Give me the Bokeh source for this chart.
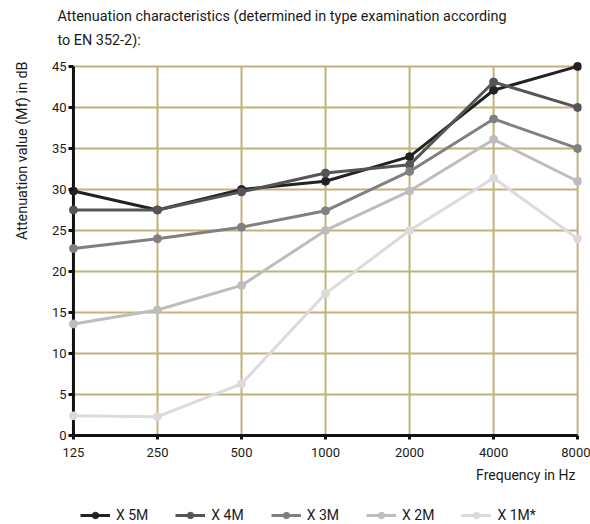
from bokeh.plotting import figure
from bokeh.layouts import column
from bokeh.models import Range1d, FixedTicker, Title, Legend, LegendItem
from bokeh.embed import file_html
from bokeh.resources import INLINE

# ---- data ----
freqs = [125, 250, 500, 1000, 2000, 4000, 8000]
freq_labels = ["125", "250", "500", "1000", "2000", "4000", "8000"]
y_ticks = [0, 5, 10, 15, 20, 25, 30, 35, 40, 45]

series_names = ["X 5M", "X 4M", "X 3M", "X 2M", "X 1M*"]
x5m = [29.8, 27.5, 30.0, 31.0, 34.0, 42.1, 45.0]
x4m = [27.5, 27.5, 29.7, 32.0, 33.0, 43.1, 40.0]
x3m = [22.8, 24.0, 25.4, 27.4, 32.2, 38.6, 35.0]
x2m = [13.6, 15.3, 18.3, 25.0, 29.8, 36.1, 31.0]
x1m = [2.4, 2.3, 6.3, 17.3, 25.0, 31.4, 24.0]
series_values = [x5m, x4m, x3m, x2m, x1m]

title_line1 = "Attenuation characteristics (determined in type examination according"
title_line2 = "to EN 352-2):"
y_title = "Attenuation value (Mf) in dB"
x_title = "Frequency in Hz"

# ---- style ----
colors = ["#222222", "#555555", "#808080", "#bdbdbd", "#dbdbdb"]
grid_color = "#c2b27c"
axis_color = "#111111"
FONT = "Roboto"
TXT = "#1a1a1a"

p = figure(width=590, height=506, x_axis_type="log",
           x_range=Range1d(120, 8260), y_range=Range1d(0, 45.6),
           output_backend="svg", toolbar_location=None,
           min_border_left=61, min_border_right=9,
           min_border_top=61, min_border_bottom=71)
p.outline_line_color = None
p.xgrid.visible = False
p.ygrid.visible = False

x_lo, x_hi = freqs[0], freqs[-1]
y_lo, y_hi = y_ticks[0], y_ticks[-1]

# grid lines drawn through the data scales
p.segment(x0=freqs[1:], y0=[y_lo] * (len(freqs) - 1), x1=freqs[1:], y1=[y_hi] * (len(freqs) - 1),
          line_color=grid_color, line_width=2)
p.segment(x0=[x_lo] * (len(y_ticks) - 1), y0=y_ticks[1:], x1=[x_hi] * (len(y_ticks) - 1), y1=y_ticks[1:],
          line_color=grid_color, line_width=2)
# vertical axis line at the first frequency
p.segment(x0=[x_lo], y0=[y_lo], x1=[x_lo], y1=[y_hi], line_color=axis_color, line_width=3)

for vals, c in zip(series_values, colors):
    p.line(freqs, vals, line_color=c, line_width=3)
    p.scatter(freqs, vals, size=8, fill_color=c, line_color=c)

# axes
p.yaxis.ticker = FixedTicker(ticks=y_ticks)
p.yaxis.bounds = (y_lo, y_hi)
p.yaxis.axis_line_color = None
p.yaxis.major_tick_out = 0
p.yaxis.major_tick_in = 5
p.yaxis.major_label_standoff = 2

p.xaxis.ticker = FixedTicker(ticks=freqs)
p.xaxis.bounds = (x_lo, x_hi)
p.xaxis.major_label_overrides = dict(zip(freqs, freq_labels))
p.xaxis.axis_line_color = axis_color
p.xaxis.axis_line_width = 3
p.xaxis.major_tick_out = 4
p.xaxis.major_tick_in = 0
p.xaxis.major_label_standoff = 8
for ax in (p.xaxis, p.yaxis):
    ax.major_tick_line_color = axis_color
    ax.major_tick_line_width = 3
    ax.minor_tick_line_color = None
    ax.major_label_text_font = FONT
    ax.major_label_text_font_size = "13px"
    ax.major_label_text_color = TXT

# titles (a thin blank spacer sits next to the frame)
p.add_layout(Title(text=" ", standoff=0, text_font_size="6px"), "above")
p.add_layout(Title(text=title_line2, align="left", offset=-11, standoff=9,
                   text_font=FONT, text_font_size="14.4px", text_font_style="normal",
                   text_color=TXT), "above")
p.add_layout(Title(text=title_line1, align="left", offset=-11, standoff=2,
                   text_font=FONT, text_font_size="14.4px", text_font_style="normal",
                   text_color=TXT), "above")
p.add_layout(Title(text=" ", standoff=0, text_font_size="4px"), "left")
p.add_layout(Title(text=y_title, align="right", offset=0, standoff=22,
                   text_font=FONT, text_font_size="14.4px", text_font_style="normal",
                   text_color=TXT), "left")
p.add_layout(Title(text=x_title, align="right", offset=6, standoff=11,
                   text_font=FONT, text_font_size="14px", text_font_style="normal",
                   text_color=TXT), "below")

# legend row: a strip figure whose series renderers lie outside its view
lg = figure(width=590, height=18, x_range=Range1d(0, 1), y_range=Range1d(0, 1),
            x_axis_location=None, y_axis_location=None,
            output_backend="svg", toolbar_location=None,
            min_border_left=0, min_border_right=0, min_border_top=0, min_border_bottom=0)
lg.grid.visible = False
lg.outline_line_color = None
items = []
for name, vals, c in zip(series_names, series_values, colors):
    lr = lg.line(freqs, vals, line_color=c, line_width=3)
    sr = lg.scatter(freqs, vals, size=8, fill_color=c, line_color=c)
    items.append(LegendItem(label=name, renderers=[lr, sr]))
legend = Legend(items=items, orientation="horizontal", location=(12, 1),
                border_line_color=None, background_fill_alpha=0,
                glyph_width=30, glyph_height=16, label_height=16,
                label_standoff=6, spacing=27, padding=0, margin=0,
                label_text_font=FONT, label_text_font_size="14px", label_text_color=TXT)
lg.add_layout(legend)

layout = column(p, lg, spacing=0)
open("out.html", "w").write(file_html(layout, INLINE))
